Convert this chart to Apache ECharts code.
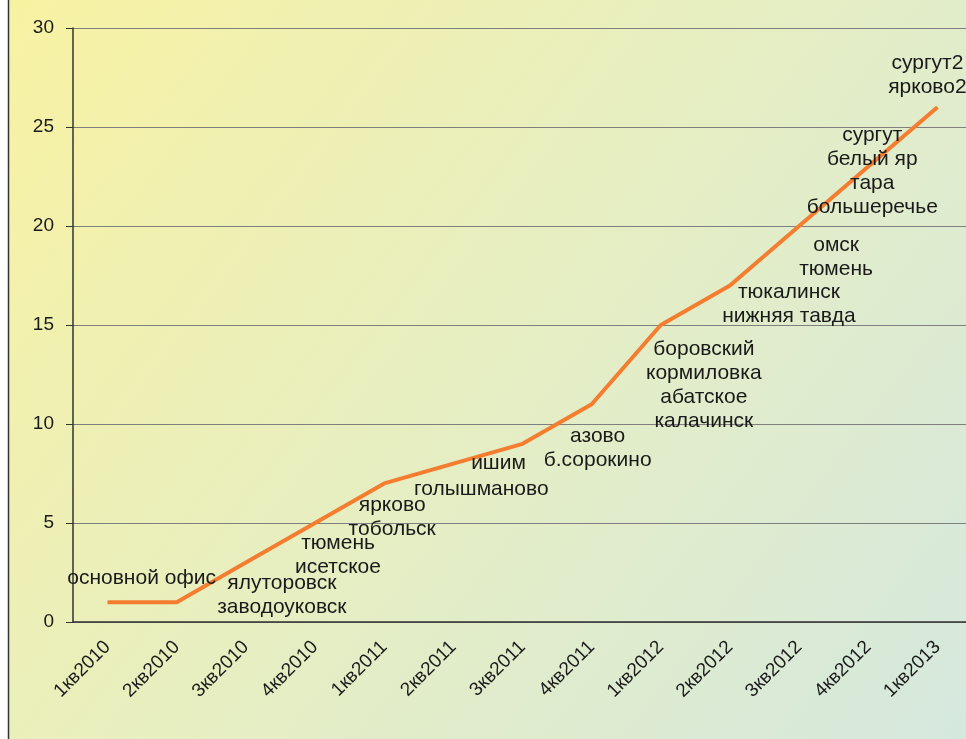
<!DOCTYPE html>
<html>
<head>
<meta charset="utf-8">
<script src="https://cdn.jsdelivr.net/npm/echarts@6/dist/echarts.min.js"></script>
<style>
html,body{margin:0;padding:0;background:#fff;}
#chart{width:966px;height:739px;}
</style>
</head>
<body>
<div id="chart"></div>
<script>
// кварталы
var quarters = ['1кв2010','2кв2010','3кв2010','4кв2010','1кв2011','2кв2011','3кв2011','4кв2011','1кв2012','2кв2012','3кв2012','4кв2012','1кв2013'];
// количество офисов
var offices = [1, 1, 3, 5, 7, 8, 9, 11, 15, 17, 20, 23, 26];
// открытые города по кварталам
var towns = [
    'основной офис',
    '',
    'ялуторовск\nзаводоуковск',
    'тюмень\nисетское',
    'ярково\nтобольск',
    'голышманово',
    'ишим',
    'азово\nб.сорокино',
    'боровский\nкормиловка\nабатское\nкалачинск',
    'тюкалинск\nнижняя тавда',
    'омск\nтюмень',
    'сургут\nбелый яр\nтара\nбольшеречье',
    'сургут2\nярково2'
];
var yTicks = [0, 5, 10, 15, 20, 25, 30];

var mychart = echarts.init(document.getElementById('chart'));

// сдвиг подписей относительно точек
var labelOffsets = [[34,-24],[0,0],[36,33],[23,32],[8,34],[28,26],[-24,19],[6,44],[43,60],[59,19],[37,31],[4,5],[-10,-32]];

var seriesData = [];
for (var i = 0; i < offices.length; i++) {
    seriesData.push({
        value: offices[i],
        label: {
            show: towns[i] !== '',
            formatter: towns[i],
            offset: labelOffsets[i]
        }
    });
}

var option = {
    backgroundColor: new echarts.graphic.LinearGradient(0, 0, 1, 1, [
        {offset: 0, color: '#f8f2a2'},
        {offset: 0.5, color: '#e6eec2'},
        {offset: 1, color: '#d5e8de'}
    ]),
    animation: false,
    grid: {left: 73, top: 28, height: 594, width: 899, outerBoundsMode: 'none', containLabel: false},
    graphic: [
        {type: 'rect', shape: {x: 0, y: 0, width: 8, height: 739}, style: {fill: '#ffffff'}, silent: true},
        {type: 'line', shape: {x1: 8.5, y1: 0, x2: 8.5, y2: 739}, style: {stroke: '#333', lineWidth: 1.5}, silent: true}
    ],
    xAxis: {
        type: 'category',
        data: quarters,
        boundaryGap: true,
        axisLine: {lineStyle: {color: '#333', width: 1.5}},
        axisTick: {length: 6, lineStyle: {color: '#333'}},
        axisLabel: {
            rotate: 45,
            margin: 22,
            interval: 0,
            color: '#1a1a1a',
            fontSize: 19,
            fontFamily: 'Liberation Sans'
        }
    },
    yAxis: {
        type: 'value',
        min: yTicks[0],
        max: yTicks[yTicks.length - 1],
        interval: 5,
        axisLine: {show: true, lineStyle: {color: '#333', width: 1.5}},
        axisTick: {show: true, length: 7, lineStyle: {color: '#333'}},
        axisLabel: {
            margin: 19,
            color: '#1a1a1a',
            fontSize: 19,
            fontFamily: 'Liberation Sans'
        },
        splitLine: {lineStyle: {color: '#7f7f7f', width: 1}}
    },
    series: [{
        type: 'line',
        data: seriesData,
        symbol: 'circle',
        symbolSize: 1,
        showSymbol: true,
        itemStyle: {color: '#f47d30'},
        lineStyle: {color: '#f47d30', width: 4},
        label: {
            show: true,
            position: 'inside',
            align: 'center',
            verticalAlign: 'middle',
            color: '#1a1a1a',
            fontSize: 21,
            lineHeight: 24,
            fontFamily: 'Liberation Sans'
        }
    }]
};
mychart.setOption(option);
</script>
</body>
</html>
